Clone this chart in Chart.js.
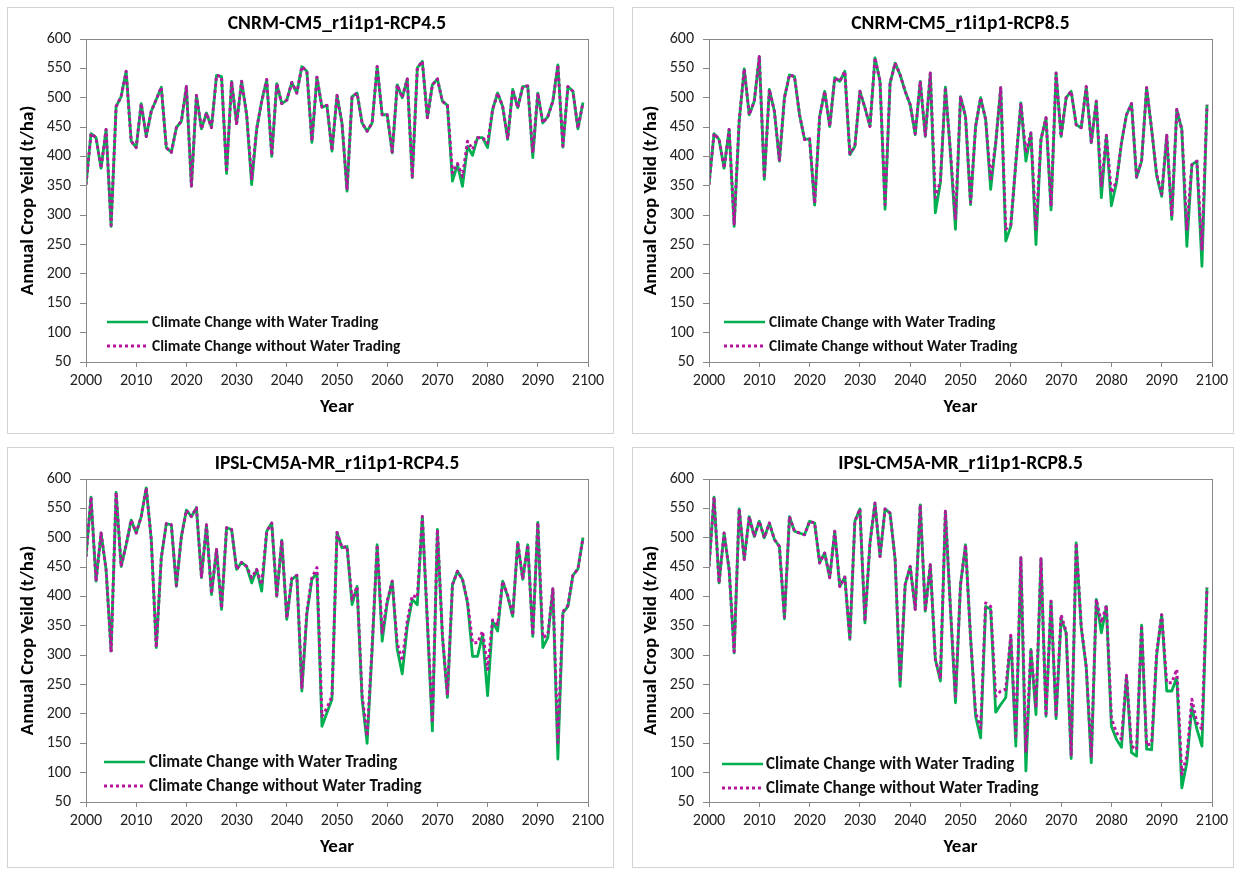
<!DOCTYPE html>
<html><head><meta charset="utf-8">
<script src="https://cdn.jsdelivr.net/npm/chart.js@4.4.1/dist/chart.umd.min.js"></script>
<style>
html,body{margin:0;padding:0;background:#fff;}
body{width:1241px;height:873px;position:relative;overflow:hidden;}
canvas{position:absolute;}
</style></head><body>
<canvas id="c1"></canvas><canvas id="c2"></canvas><canvas id="c3"></canvas><canvas id="c4"></canvas>
<script>
const years = [
2000,2001,2002,2003,2004,2005,2006,2007,2008,2009,
2010,2011,2012,2013,2014,2015,2016,2017,2018,2019,
2020,2021,2022,2023,2024,2025,2026,2027,2028,2029,
2030,2031,2032,2033,2034,2035,2036,2037,2038,2039,
2040,2041,2042,2043,2044,2045,2046,2047,2048,2049,
2050,2051,2052,2053,2054,2055,2056,2057,2058,2059,
2060,2061,2062,2063,2064,2065,2066,2067,2068,2069,
2070,2071,2072,2073,2074,2075,2076,2077,2078,2079,
2080,2081,2082,2083,2084,2085,2086,2087,2088,2089,
2090,2091,2092,2093,2094,2095,2096,2097,2098,2099];
const xTicks = [2000,2010,2020,2030,2040,2050,2060,2070,2080,2090,2100];
const yTicks = [50,100,150,200,250,300,350,400,450,500,550,600];
const seriesNames = ['Climate Change with Water Trading','Climate Change without Water Trading'];
const titles = ['CNRM-CM5_r1i1p1-RCP4.5','CNRM-CM5_r1i1p1-RCP8.5','IPSL-CM5A-MR_r1i1p1-RCP4.5','IPSL-CM5A-MR_r1i1p1-RCP8.5'];

const cnrm45With = [
352,439,432,380,446,281,485,502,545,426,
415,490,434,477,497,518,415,407,449,460,
519,349,504,447,474,449,538,536,371,528,
456,528,471,352,447,494,531,400,524,490,
496,526,508,553,545,424,535,484,487,409,
504,456,341,502,508,457,443,457,553,471,
471,406,522,500,532,364,551,562,466,522,
532,494,487,358,386,349,417,402,432,432,
415,480,508,485,429,514,483,519,520,398,
508,457,468,494,556,416,519,511,447,492];
const cnrm45Without = [
352,439,432,380,446,283,485,502,545,426,
415,490,434,477,497,518,415,407,449,460,
519,350,504,447,474,449,538,536,373,528,
456,528,471,362,447,494,531,402,524,490,
496,526,508,553,545,426,535,484,487,410,
504,456,343,502,508,457,443,457,553,471,
471,408,522,500,532,366,551,562,466,522,
532,494,487,372,388,366,426,412,432,432,
423,480,508,485,430,514,483,519,520,406,
508,457,468,494,556,418,519,511,448,492];

const cnrm85With = [
352,439,429,380,446,281,460,549,471,494,
570,361,514,477,392,500,539,536,471,429,
430,317,468,511,451,534,528,545,403,417,
511,483,451,568,528,310,525,559,539,511,
488,437,528,434,542,304,355,518,406,276,
502,468,318,451,500,463,344,423,517,256,
281,389,491,392,440,250,429,466,309,542,
434,500,511,454,449,519,423,494,330,436,
316,355,423,471,490,364,392,517,446,367,
332,436,293,480,446,247,386,392,213,488];
const cnrm85Without = [
352,439,429,380,446,285,460,549,471,494,
570,363,514,477,394,500,539,536,471,429,
430,320,468,511,451,534,528,545,405,417,
511,483,451,568,528,318,525,559,539,511,
488,439,528,436,542,330,358,518,408,292,
502,468,322,451,500,463,358,423,517,276,
284,389,491,406,440,276,429,466,315,542,
434,500,511,454,449,519,425,494,348,436,
338,358,423,471,490,366,392,517,446,370,
336,436,298,480,446,276,386,392,242,488];

const ipsl45With = [
468,569,426,508,446,307,577,451,488,530,
508,536,585,497,313,466,524,522,417,502,
547,536,551,432,522,403,480,378,517,514,
446,458,451,423,446,409,511,525,400,496,
361,429,436,239,370,429,440,179,202,225,
509,483,485,386,417,225,150,310,488,324,
389,426,310,268,349,395,386,536,355,171,
514,332,228,420,443,429,389,298,298,335,
231,358,341,426,400,366,492,429,488,332,
526,313,330,413,123,372,383,436,447,500];
const ipsl45Without = [
468,569,426,508,446,305,577,451,488,530,
508,536,585,497,313,466,524,522,419,502,
547,536,551,434,522,405,480,380,517,514,
446,458,451,432,446,420,511,525,402,496,
363,431,436,245,375,432,449,196,210,230,
509,483,485,395,417,232,162,315,488,338,
392,426,320,290,358,402,398,536,360,185,
514,335,232,420,443,429,392,321,321,341,
276,360,352,426,402,368,492,430,488,334,
526,330,335,413,151,374,385,436,447,500];

const ipsl85With = [
451,569,423,508,446,304,549,463,536,502,
528,500,525,497,485,362,536,511,508,505,
528,525,457,474,432,511,417,433,327,528,
549,355,491,559,468,549,542,463,247,420,
451,378,556,375,454,293,256,545,380,219,
420,488,330,196,159,383,378,203,216,228,
332,145,466,103,310,199,464,196,392,192,
363,338,124,491,347,279,117,395,338,383,
179,157,143,264,134,128,351,140,139,300,
369,239,239,262,74,117,211,174,145,415];
const ipsl85Without = [
451,569,423,508,446,306,549,463,536,502,
528,500,525,497,485,365,536,511,508,505,
528,525,457,474,432,511,417,433,330,528,
549,358,491,559,468,549,542,463,258,420,
451,378,556,375,454,293,260,545,380,230,
420,488,330,202,176,389,383,230,239,242,
334,162,466,134,310,210,464,200,392,198,
369,340,130,491,350,281,128,395,355,385,
193,168,157,266,145,139,351,146,150,305,
369,253,253,276,97,128,225,185,174,415];

const FONT = 'Carlito, Lato, "Open Sans", sans-serif';
const GREEN = '#00B050';
const PURPLE = '#B8159F';
const AXIS = '#878787';
const DASH = [3,3];

function makePanel(id, box, plot, title, withVals, withoutVals, lay) {
  const cv = document.getElementById(id);
  cv.width = box.w; cv.height = box.h;
  cv.style.left = box.x + 'px'; cv.style.top = box.y + 'px';
  const yW = plot.l - box.x, xH = (box.y + box.h) - plot.b;
  const padTop = plot.t - box.y, padRight = (box.x + box.w) - plot.r;
  const decor = {
    id: 'decor_' + id,
    afterDraw(chart) {
      const ctx = chart.ctx, ca = chart.chartArea;
      ctx.save();
      ctx.strokeStyle = '#D3D3D3'; ctx.lineWidth = 1;
      ctx.strokeRect(0.5, 0.5, box.w - 1, box.h - 1);
      ctx.strokeStyle = AXIS;
      ctx.strokeRect(Math.round(ca.left) + 0.5, Math.round(ca.top) + 0.5, Math.round(ca.right - ca.left), Math.round(ca.bottom - ca.top));
      ctx.fillStyle = '#000';
      ctx.textAlign = 'center'; ctx.textBaseline = 'middle';
      ctx.font = 'bold 19.5px ' + FONT;
      ctx.fillText(title, (ca.left + ca.right) / 2, lay.titleY - box.y);
      ctx.font = 'bold 19px ' + FONT;
      ctx.fillText('Year', (ca.left + ca.right) / 2, lay.xTitleY - box.y);
      ctx.save();
      ctx.translate(lay.yTitleX - box.x, (ca.top + ca.bottom) / 2);
      ctx.rotate(-Math.PI / 2);
      ctx.fillText('Annual Crop Yeild (t/ha)', 0, 0);
      ctx.restore();
      // legend
      const lx1 = lay.legX1 - box.x, lx2 = lay.legX2 - box.x, tx = lay.legTX - box.x;
      const ys = [lay.legY1 - box.y, lay.legY2 - box.y];
      ctx.textAlign = 'left';
      ctx.font = 'bold ' + lay.legFont + 'px ' + FONT;
      ctx.lineWidth = 2.6; ctx.strokeStyle = GREEN; ctx.setLineDash([]);
      ctx.beginPath(); ctx.moveTo(lx1, ys[0]); ctx.lineTo(lx2, ys[0]); ctx.stroke();
      ctx.lineWidth = 3; ctx.strokeStyle = PURPLE; ctx.setLineDash(DASH);
      ctx.beginPath(); ctx.moveTo(lx1, ys[1]); ctx.lineTo(lx2, ys[1]); ctx.stroke();
      ctx.setLineDash([]);
      ctx.fillStyle = '#111';
      ctx.fillText(seriesNames[0], tx, ys[0] + 1);
      ctx.fillText(seriesNames[1], tx, ys[1] + 1);
      ctx.restore();
    }
  };
  new Chart(cv, {
    type: 'line',
    data: {
      datasets: [
        { label: seriesNames[0], data: years.map((yr, i) => ({x: yr, y: withVals[i]})),
          borderColor: GREEN, borderWidth: 2.8, borderJoinStyle: 'round', pointRadius: 0, tension: 0, fill: false, order: 2 },
        { label: seriesNames[1], data: years.map((yr, i) => ({x: yr, y: withoutVals[i]})),
          borderColor: PURPLE, borderWidth: 3, borderDash: DASH, borderJoinStyle: 'round', pointRadius: 0, tension: 0, fill: false, order: 1 }
      ]
    },
    options: {
      responsive: false, animation: false, devicePixelRatio: 1,
      layout: { padding: { left: 0, top: padTop, right: padRight, bottom: 0 } },
      plugins: { legend: { display: false }, tooltip: { enabled: false }, title: { display: false } },
      scales: {
        x: {
          type: 'linear', min: 2000, max: 2100,
          afterBuildTicks: s => { s.ticks = xTicks.map(v => ({value: v})); },
          ticks: { font: { family: FONT, size: 16 }, color: '#222', padding: 4, maxRotation: 0, autoSkip: false, callback: v => String(v) },
          grid: { drawOnChartArea: false, drawTicks: true, tickLength: 5, color: AXIS },
          border: { display: true, color: AXIS, width: 1 },
          afterFit: s => { s.height = xH; }
        },
        y: {
          min: 50, max: 600,
          afterBuildTicks: s => { s.ticks = yTicks.map(v => ({value: v})); },
          ticks: { font: { family: FONT, size: 16 }, color: '#222', padding: 9, autoSkip: false, callback: v => String(v) },
          grid: { drawOnChartArea: false, drawTicks: true, tickLength: 6, color: AXIS },
          border: { display: true, color: AXIS, width: 1 },
          afterFit: s => { s.width = yW; }
        }
      }
    },
    plugins: [decor]
  });
}

makePanel('c1', {x:7, y:7, w:607, h:427}, {l:86, t:39, r:588, b:362}, titles[0], cnrm45With, cnrm45Without,
  {titleY:24, xTitleY:407, yTitleX:28, legX1:107, legX2:148, legTX:152, legY1:322, legY2:346, legFont:15.5});
makePanel('c2', {x:632, y:7, w:602, h:427}, {l:709, t:39, r:1212, b:362}, titles[1], cnrm85With, cnrm85Without,
  {titleY:24, xTitleY:407, yTitleX:651, legX1:724, legX2:765, legTX:769, legY1:322, legY2:346, legFont:15.5});
makePanel('c3', {x:7, y:447, w:607, h:421}, {l:86, t:479, r:588, b:802}, titles[2], ipsl45With, ipsl45Without,
  {titleY:464, xTitleY:847, yTitleX:28, legX1:104, legX2:145, legTX:149, legY1:762, legY2:786, legFont:17});
makePanel('c4', {x:632, y:447, w:602, h:421}, {l:709, t:479, r:1212, b:802}, titles[3], ipsl85With, ipsl85Without,
  {titleY:464, xTitleY:847, yTitleX:651, legX1:722, legX2:763, legTX:766, legY1:764, legY2:788, legFont:17});
</script>
</body></html>
